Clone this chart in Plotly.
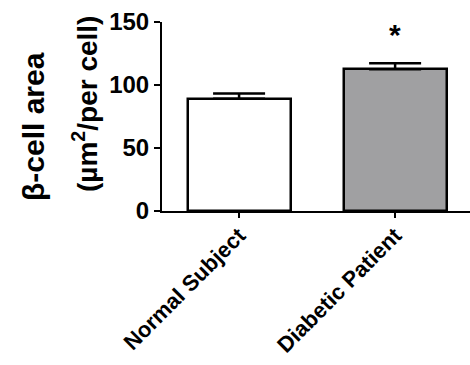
import plotly.graph_objects as go

categories = ["Normal Subject", "Diabetic Patient"]
means = [89, 112.5]
sems = [4.2, 4.7]
bar_colors = ["#ffffff", "#a0a0a2"]
y_ticks = [0, 50, 100, 150]

FONT = "Arial, Liberation Sans, sans-serif"
W, H = 470, 365
L, R, T, B = 162, 0, 22, 154
pw, ph = W - L - R, H - T - B

def px_x(px):
    return (px - L) / pw

def px_y(py):
    return (H - B - py) / ph

fig = go.Figure()
fig.add_trace(go.Bar(
    x=[0, 1], y=means, width=0.66,
    marker=dict(color=bar_colors, line=dict(color="black", width=2.5)),
    error_y=dict(type="data", array=sems, arrayminus=[0, 0], symmetric=False,
                 color="black", thickness=2.5, width=26),
    showlegend=False,
))

fig.update_layout(
    width=W, height=H,
    margin=dict(l=L, r=R, t=T, b=B, autoexpand=False),
    plot_bgcolor="white", paper_bgcolor="white",
    font=dict(family=FONT, color="black"),
    bargap=0,
    xaxis=dict(
        range=[-0.494, 1.48], tickmode="array", tickvals=[0, 1], ticktext=categories,
        tickangle=-45, ticks="outside", ticklen=5, tickwidth=2, tickcolor="black",
        ticklabelstandoff=-4,
        showline=True, linecolor="black", linewidth=2, showgrid=False, zeroline=False,
        automargin=False,
        tickfont=dict(family=FONT, size=22, color="black", weight="bold"),
    ),
    yaxis=dict(
        range=[0, 150], tickmode="array", tickvals=y_ticks, ticks="outside",
        ticklen=6, tickwidth=2, tickcolor="black",
        showline=True, linecolor="black", linewidth=2, showgrid=False, zeroline=False,
        automargin=False,
        tickfont=dict(family=FONT, size=24, color="black", weight="bold"),
    ),
)

fig.add_annotation(x=px_x(33), y=px_y(127), xref="paper", yref="paper",
                   xanchor="center", yanchor="middle",
                   text="<b>β-cell area</b>", textangle=-90, showarrow=False,
                   font=dict(family=FONT, size=30, color="black"))
fig.add_annotation(x=px_x(85), y=px_y(104), xref="paper", yref="paper",
                   xanchor="center", yanchor="middle",
                   text="<b>(µm<sup>2</sup>/per cell)</b>", textangle=-90, showarrow=False,
                   font=dict(family=FONT, size=28, color="black"))
fig.add_annotation(x=1, y=px_y(34), xref="x", yref="paper",
                   xanchor="center", yanchor="middle",
                   text="<b>*</b>", showarrow=False,
                   font=dict(family=FONT, size=30, color="black"))

fig.write_html("out.html", config={"displayModeBar": False},
               post_script="document.body.style.margin='0';document.body.style.overflow='hidden';")
